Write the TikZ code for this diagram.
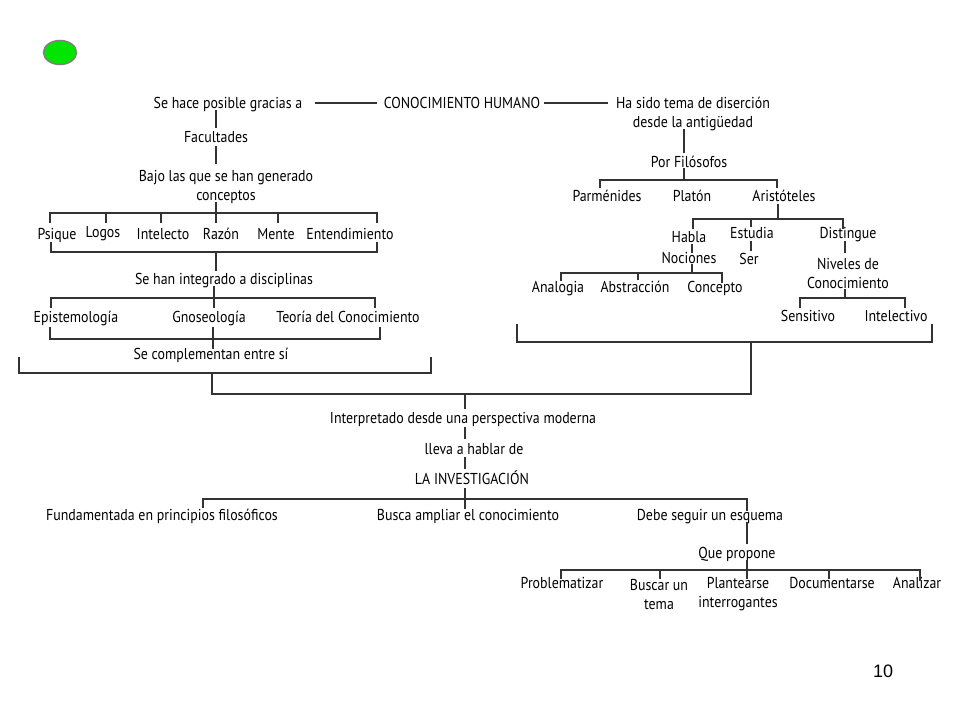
\documentclass[tikz,border=0pt]{standalone}
\usepackage{fontspec}
\usetikzlibrary{shapes.geometric}
\setmainfont{PT Sans}[FakeStretch=0.88]
\newfontfamily\numfont{Liberation Sans}
\begin{document}
\begin{tikzpicture}[x=1pt,y=-1pt]
\tikzset{
 txt/.style={font=\fontsize{15.8}{19}\selectfont, inner sep=0pt, align=center, text=black, yshift=-2pt},
 one/.style={text height=11pt, text depth=3.5pt},
 ln/.style={line width=1.1pt, draw=black!80, line cap=rect},
}
\useasboundingbox[fill=white] (0,0) rectangle (960,720);
% green dot
\node[ellipse, draw=black!50, line width=1.5pt, fill={rgb,255:red,0;green,230;blue,0},
  minimum width=33pt, minimum height=24pt, inner sep=0pt] (dot) at (60,52.5) {};

% ---------- top row
\node[txt,one] (sehace) at (228,103) {Se hace posible gracias a};
\node[txt,one] (conoc) at (462,103) {CONOCIMIENTO HUMANO};
\node[txt] (hasido) at (693,112) {Ha sido tema de diserción\\desde la antigüedad};
\draw[ln] (316,103) -- (376,103);
\draw[ln] (545,103) -- (607,103);

% ---------- left column
\node[txt,one] (fac) at (216,137) {Facultades};
\node[txt] (bajo) at (226,184.5) {Bajo las que se han generado\\conceptos};
\node[txt,one] (psique) at (57,234) {Psique};
\node[txt,one] (logos) at (103,232) {Logos};
\node[txt,one] (intel) at (163,234) {Intelecto};
\node[txt,one] (razon) at (221,234) {Razón};
\node[txt,one] (mente) at (276,234) {Mente};
\node[txt,one] (entend) at (350,234) {Entendimiento};
\node[txt,one] (integ) at (224,279) {Se han integrado a disciplinas};
\node[txt,one] (epis) at (76,317) {Epistemología};
\node[txt,one] (gnos) at (209,317) {Gnoseología};
\node[txt,one] (teoria) at (348,317) {Teoría del Conocimiento};
\node[txt,one] (compl) at (211,354) {Se complementan entre sí};

\draw[ln] (216,111) -- (216,127);
\draw[ln] (216,147) -- (216,163);
\draw[ln] (216,203) -- (216,213);
\draw[ln] (50,222) -- (50,213) -- (377,213) -- (377,222);
\foreach \x in {106,161,216,278} \draw[ln] (\x,213) -- (\x,222);
\draw[ln] (51,243) -- (51,252) -- (377,252) -- (377,243);
\draw[ln] (216,252) -- (216,270);
\draw[ln] (214,287) -- (214,307);
\draw[ln] (51,307) -- (51,298) -- (375,298) -- (375,307);
\draw[ln] (50,328) -- (50,339) -- (380,339) -- (380,328);
\draw[ln] (213,328) -- (213,348);
\draw[ln] (19,358) -- (19,373) -- (431,373) -- (431,358);
\draw[ln] (212,373) -- (212,394) -- (751,394) -- (751,342);

% ---------- right column
\node[txt,one] (por) at (689,162) {Por Filósofos};
\node[txt,one] (parm) at (607,196) {Parménides};
\node[txt,one] (platon) at (692,196) {Platón};
\node[txt,one] (arist) at (784,196) {Aristóteles};
\node[txt,one] (habla) at (689,237) {Habla};
\node[txt,one] (estudia) at (752,233) {Estudia};
\node[txt,one] (disting) at (848,233) {Distingue};
\node[txt,one] (nociones) at (689,258) {Nociones};
\node[txt,one] (ser) at (749,259) {Ser};
\node[txt] (niveles) at (848,271.5) {Niveles de\\Conocimiento};
\node[txt,one] (analogia) at (558,287) {Analogia};
\node[txt,one] (abstr) at (635,287) {Abstracción};
\node[txt,one] (concepto) at (715,287) {Concepto};
\node[txt,one] (sensit) at (808,316) {Sensitivo};
\node[txt,one] (intelec) at (896,316) {Intelectivo};

\draw[ln] (684,130) -- (684,152);
\draw[ln] (684,169) -- (684,180);
\draw[ln] (600,187) -- (600,180) -- (777,180) -- (777,187);
\draw[ln] (778,205) -- (778,219);
\draw[ln] (693,228) -- (693,219) -- (843,219) -- (843,228);
\draw[ln] (751,219) -- (751,226);
\draw[ln] (692,245) -- (692,252);
\draw[ln] (692,265) -- (692,273);
\draw[ln] (561,280) -- (561,273) -- (722,273) -- (722,282);
\draw[ln] (638,273) -- (638,279);
\draw[ln] (751,242) -- (751,250);
\draw[ln] (845,242) -- (845,252);
\draw[ln] (845,290) -- (845,298);
\draw[ln] (800,307) -- (800,298) -- (905,298) -- (905,307);
\draw[ln] (517,325) -- (517,342) -- (932,342) -- (932,325);

% ---------- bottom
\node[txt,one] (interp) at (463,418) {Interpretado desde una perspectiva moderna};
\node[txt,one] (lleva) at (474,449) {lleva a hablar de};
\node[txt,one] (lainv) at (472,479) {LA INVESTIGACIÓN};
\node[txt,one] (fund) at (162,515) {Fundamentada en principios filosóficos};
\node[txt,one] (busca) at (468,515) {Busca ampliar el conocimiento};
\node[txt,one] (debe) at (710,515) {Debe seguir un esquema};
\node[txt,one] (que) at (737,553) {Que propone};
\node[txt,one] (probl) at (562,583) {Problematizar};
\node[txt] (buscar) at (659,592.5) {Buscar un\\tema};
\node[txt] (plant) at (738,592.5) {Plantearse\\interrogantes};
\node[txt,one] (docum) at (832,583) {Documentarse};
\node[txt,one] (analiz) at (917,583) {Analizar};
\node[font=\numfont\fontsize{18}{20}\selectfont, inner sep=0pt] (num) at (883,671.5) {10};

\draw[ln] (465,394) -- (465,408);
\draw[ln] (465,428) -- (465,438);
\draw[ln] (465,458) -- (465,468);
\draw[ln] (465,489) -- (465,508);
\draw[ln] (203,507) -- (203,499) -- (747,499) -- (747,510);
\draw[ln] (747,523) -- (747,543);
\draw[ln] (747,561) -- (747,570);
\draw[ln] (561,578) -- (561,570) -- (920,570) -- (920,580);
\foreach \x in {660,747,829} \draw[ln] (\x,570) -- (\x,578);
\end{tikzpicture}
\end{document}
